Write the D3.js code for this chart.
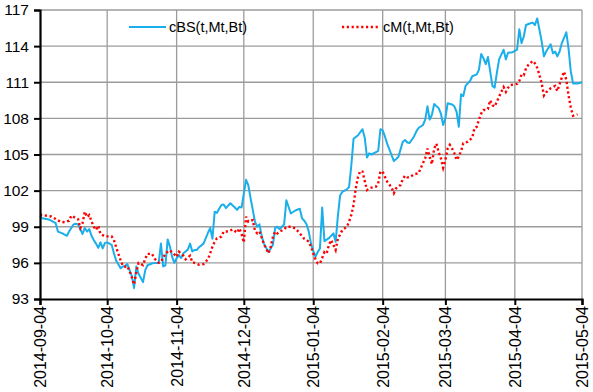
<!DOCTYPE html>
<html><head><meta charset="utf-8">
<script src="https://cdn.jsdelivr.net/npm/d3@7"></script>
<style>body{margin:0;background:#fff}svg{display:block;font-family:"Liberation Sans",Arial,sans-serif}</style>
</head><body><svg id="c" width="593" height="392"></svg>
<script>
const seriesNames = ["cBS(t,Mt,Bt)", "cM(t,Mt,Bt)"];
const yTicks = [93, 96, 99, 102, 105, 108, 111, 114, 117];
const xTickLabels = ["2014-09-04","2014-10-04","2014-11-04","2014-12-04","2015-01-04","2015-02-04","2015-03-04","2015-04-04","2015-05-04"];

const bsDates = ["2014-09-04","2014-09-05","2014-09-08","2014-09-09","2014-09-11","2014-09-12","2014-09-14","2014-09-16","2014-09-17","2014-09-19","2014-09-20","2014-09-21","2014-09-22","2014-09-23","2014-09-24","2014-09-25","2014-09-26","2014-09-27","2014-09-28","2014-09-29","2014-09-30","2014-10-01","2014-10-02","2014-10-03","2014-10-04","2014-10-05","2014-10-06","2014-10-07","2014-10-08","2014-10-10","2014-10-11","2014-10-12","2014-10-13","2014-10-14","2014-10-15","2014-10-16","2014-10-17","2014-10-18","2014-10-20","2014-10-21","2014-10-22","2014-10-24","2014-10-25","2014-10-27","2014-10-28","2014-10-29","2014-10-30","2014-10-31","2014-11-01","2014-11-02","2014-11-03","2014-11-04","2014-11-05","2014-11-06","2014-11-07","2014-11-08","2014-11-09","2014-11-10","2014-11-11","2014-11-12","2014-11-13","2014-11-14","2014-11-16","2014-11-18","2014-11-19","2014-11-20","2014-11-21","2014-11-22","2014-11-23","2014-11-24","2014-11-25","2014-11-26","2014-11-28","2014-11-30","2014-12-01","2014-12-02","2014-12-03","2014-12-05","2014-12-06","2014-12-07","2014-12-09","2014-12-10","2014-12-11","2014-12-12","2014-12-13","2014-12-15","2014-12-16","2014-12-17","2014-12-18","2014-12-19","2014-12-20","2014-12-21","2014-12-22","2014-12-23","2014-12-25","2014-12-27","2014-12-29","2014-12-30","2014-12-31","2015-01-01","2015-01-02","2015-01-03","2015-01-04","2015-01-05","2015-01-06","2015-01-07","2015-01-08","2015-01-09","2015-01-11","2015-01-13","2015-01-14","2015-01-15","2015-01-16","2015-01-17","2015-01-19","2015-01-20","2015-01-21","2015-01-22","2015-01-24","2015-01-26","2015-01-27","2015-01-28","2015-01-29","2015-01-30","2015-02-01","2015-02-02","2015-02-03","2015-02-04","2015-02-05","2015-02-06","2015-02-09","2015-02-11","2015-02-13","2015-02-14","2015-02-15","2015-02-16","2015-02-18","2015-02-19","2015-02-20","2015-02-22","2015-02-23","2015-02-24","2015-02-25","2015-02-26","2015-02-27","2015-03-01","2015-03-02","2015-03-03","2015-03-04","2015-03-05","2015-03-07","2015-03-08","2015-03-09","2015-03-10","2015-03-11","2015-03-12","2015-03-13","2015-03-15","2015-03-16","2015-03-18","2015-03-19","2015-03-20","2015-03-21","2015-03-22","2015-03-23","2015-03-25","2015-03-26","2015-03-27","2015-03-28","2015-03-30","2015-03-31","2015-04-01","2015-04-03","2015-04-04","2015-04-05","2015-04-06","2015-04-07","2015-04-08","2015-04-09","2015-04-11","2015-04-12","2015-04-13","2015-04-14","2015-04-16","2015-04-17","2015-04-18","2015-04-20","2015-04-21","2015-04-22","2015-04-23","2015-04-24","2015-04-25","2015-04-27","2015-04-28","2015-04-29","2015-04-30","2015-05-02","2015-05-04"];
const bsValues = [99.9,99.7,99.6,99.5,99.3,98.6,98.45,98.25,98.6,99.2,99.25,99.2,98.8,98.4,98.9,98.6,98.8,98.25,97.9,97.6,97.25,97.7,97.2,97.65,97.7,97.6,97.5,96.8,96.2,95.55,95.7,95.75,95.9,95.4,94.9,93.9,95.7,95.1,94.4,95.4,95.8,95.95,96.0,96.0,97.6,95.7,95.8,97.95,97.35,96.5,96.0,96.4,96.65,96.4,96.8,96.95,97.1,97.6,96.95,97.07,97.07,97.3,97.6,98.5,98.9,98.0,100.25,100.15,100.5,100.8,100.85,100.55,100.95,100.6,100.4,100.65,100.6,102.9,102.45,101.4,99.4,99.0,99.2,98.2,97.6,96.9,97.2,97.5,98.9,99.0,98.8,99.0,99.2,101.2,100.1,100.35,100.5,99.7,99.5,99.2,98.6,97.6,97.0,96.5,96.9,97.2,100.6,97.8,98.05,98.45,97.75,99.9,101.6,101.9,102.1,102.3,104.1,106.3,106.6,107.1,106.4,104.75,105.1,105.0,105.2,105.3,107.1,107.0,106.5,105.9,104.45,104.8,106.06,106.2,106.0,105.95,106.5,106.9,107.2,107.45,107.9,109.0,107.9,108.3,109.2,108.85,108.4,107.45,108.0,109.25,109.15,109.0,108.55,107.3,110.0,109.85,110.7,111.1,111.5,111.65,112.05,113.35,113.0,112.5,113.1,110.7,110.55,111.8,112.9,113.7,112.9,113.45,113.5,113.6,113.7,115.4,114.25,114.8,115.75,115.9,115.95,115.75,116.3,114.4,113.15,113.55,114.15,113.4,113.55,113.15,113.55,114.25,115.15,113.8,111.9,110.9,110.9,111.0];

const mDates = ["2014-09-04","2014-09-06","2014-09-09","2014-09-11","2014-09-13","2014-09-15","2014-09-17","2014-09-18","2014-09-21","2014-09-22","2014-09-23","2014-09-24","2014-09-25","2014-09-26","2014-09-27","2014-09-28","2014-09-29","2014-09-30","2014-10-01","2014-10-03","2014-10-06","2014-10-07","2014-10-08","2014-10-09","2014-10-10","2014-10-11","2014-10-12","2014-10-13","2014-10-14","2014-10-15","2014-10-16","2014-10-17","2014-10-18","2014-10-20","2014-10-21","2014-10-22","2014-10-24","2014-10-25","2014-10-27","2014-10-28","2014-10-29","2014-10-30","2014-11-01","2014-11-03","2014-11-04","2014-11-05","2014-11-07","2014-11-08","2014-11-10","2014-11-11","2014-11-12","2014-11-14","2014-11-16","2014-11-18","2014-11-19","2014-11-20","2014-11-21","2014-11-22","2014-11-24","2014-11-25","2014-11-27","2014-11-29","2014-12-01","2014-12-02","2014-12-03","2014-12-04","2014-12-05","2014-12-06","2014-12-08","2014-12-09","2014-12-10","2014-12-11","2014-12-12","2014-12-13","2014-12-15","2014-12-16","2014-12-17","2014-12-18","2014-12-19","2014-12-20","2014-12-22","2014-12-23","2014-12-25","2014-12-27","2014-12-29","2014-12-31","2015-01-01","2015-01-02","2015-01-03","2015-01-04","2015-01-05","2015-01-06","2015-01-07","2015-01-08","2015-01-09","2015-01-10","2015-01-11","2015-01-12","2015-01-13","2015-01-14","2015-01-15","2015-01-17","2015-01-19","2015-01-20","2015-01-21","2015-01-22","2015-01-23","2015-01-24","2015-01-25","2015-01-26","2015-01-27","2015-01-28","2015-01-29","2015-01-30","2015-02-01","2015-02-02","2015-02-03","2015-02-04","2015-02-05","2015-02-06","2015-02-08","2015-02-09","2015-02-10","2015-02-12","2015-02-13","2015-02-14","2015-02-15","2015-02-16","2015-02-18","2015-02-20","2015-02-21","2015-02-23","2015-02-24","2015-02-25","2015-02-26","2015-02-27","2015-02-28","2015-03-01","2015-03-02","2015-03-03","2015-03-04","2015-03-05","2015-03-06","2015-03-07","2015-03-08","2015-03-09","2015-03-10","2015-03-11","2015-03-12","2015-03-14","2015-03-16","2015-03-17","2015-03-18","2015-03-19","2015-03-20","2015-03-21","2015-03-22","2015-03-23","2015-03-24","2015-03-25","2015-03-26","2015-03-27","2015-03-28","2015-03-29","2015-03-30","2015-03-31","2015-04-01","2015-04-02","2015-04-05","2015-04-06","2015-04-07","2015-04-08","2015-04-09","2015-04-10","2015-04-12","2015-04-13","2015-04-14","2015-04-15","2015-04-16","2015-04-17","2015-04-18","2015-04-20","2015-04-22","2015-04-23","2015-04-24","2015-04-25","2015-04-26","2015-04-27","2015-04-28","2015-04-29","2015-04-30","2015-05-02"];
const mValues = [100.0,99.95,99.85,99.65,99.42,99.37,99.5,99.92,99.62,98.9,99.3,100.25,99.8,99.97,99.45,99.0,98.73,99.08,98.4,98.2,98.2,97.9,97.3,96.75,96.2,95.75,95.68,95.74,95.3,94.8,94.2,95.2,96.0,95.82,96.35,96.75,96.75,96.38,96.0,96.1,96.4,96.8,97.05,96.7,96.5,96.93,96.6,96.3,96.6,96.05,96.0,95.85,95.9,96.3,96.8,97.35,97.76,98.04,98.18,98.6,98.6,98.78,98.5,98.87,98.4,97.7,99.84,99.42,99.56,98.65,98.45,98.6,98.1,97.55,96.8,97.3,98.17,98.6,98.45,98.6,98.78,99.0,99.0,98.87,98.45,98.0,97.9,97.76,97.35,96.8,96.3,95.96,95.96,96.4,96.9,96.8,97.49,97.9,97.49,97.07,98.0,98.73,99.0,99.42,99.98,100.8,102.2,103.16,103.63,103.58,102.8,102.05,102.19,102.25,102.33,102.6,103.58,103.58,103.16,102.75,102.25,101.78,102.19,102.47,102.97,103.24,103.1,103.1,103.36,103.44,103.86,104.7,105.5,104.8,104.2,105.5,105.9,105.2,104.68,103.9,104.55,105.5,105.8,105.5,105.1,104.55,104.82,105.29,105.93,106.06,106.4,107.2,107.3,107.9,108.4,108.7,108.7,108.78,109.5,109.1,108.97,109.39,109.8,110.22,110.6,110.2,110.55,110.77,110.86,111.1,111.65,111.6,112.16,112.43,112.77,112.57,112.2,111.6,110.9,109.9,110.17,110.5,110.69,110.27,110.85,111.4,111.88,111.2,109.9,108.9,108.22,108.34];

const parse = d3.timeParse("%Y-%m-%d");
const svg = d3.select("#c");
const L = 40, R = 582, T = 10, B = 299;
const x = d3.scaleTime().domain([parse(xTickLabels[0]), parse(xTickLabels[xTickLabels.length-1])]).range([L, R]);
const y = d3.scaleLinear().domain([93, 117]).range([B, T]);
const tickDates = xTickLabels.map(parse);

// grid
const g = svg.append("g");
g.selectAll("line.h").data(yTicks.slice(1)).enter().append("line")
  .attr("x1", L).attr("x2", R).attr("y1", d => y(d)).attr("y2", d => y(d))
  .attr("stroke", "#9c9c9c").attr("stroke-width", 1.3);
g.selectAll("line.v").data(tickDates.slice(1)).enter().append("line")
  .attr("x1", d => x(d)).attr("x2", d => x(d)).attr("y1", T).attr("y2", B)
  .attr("stroke", "#9c9c9c").attr("stroke-width", 1.3);

// legend
const lg = svg.append("g");
lg.append("line").attr("x1", 129).attr("x2", 166).attr("y1", 27).attr("y2", 27)
  .attr("stroke", "#1aaeea").attr("stroke-width", 2);
lg.append("text").attr("x", 169).attr("y", 32).attr("font-size", 14.5).attr("fill", "#000").text(seriesNames[0]);
lg.append("line").attr("x1", 342).attr("x2", 380).attr("y1", 27).attr("y2", 27)
  .attr("stroke", "#ff0000").attr("stroke-width", 2.4).attr("stroke-dasharray", "2.2,2.6");
lg.append("text").attr("x", 383).attr("y", 32).attr("font-size", 14.5).attr("fill", "#000").text(seriesNames[1]);

// lines
const line = d3.line().x(d => x(d[0])).y(d => y(d[1]));
const bsData = bsDates.map((d, i) => [parse(d), bsValues[i]]);
const mData = mDates.map((d, i) => [parse(d), mValues[i]]);
svg.append("path").datum(bsData).attr("d", line).attr("fill", "none")
  .attr("stroke", "#1aaeea").attr("stroke-width", 2).attr("stroke-linejoin", "round");
svg.append("path").datum(mData).attr("d", line).attr("fill", "none")
  .attr("stroke", "#ff0000").attr("stroke-width", 2.4).attr("stroke-dasharray", "2.2,2.6");

// axes
const yAxis = d3.axisLeft(y).tickValues(yTicks).tickSize(6).tickFormat(d3.format("d"));
const ya = svg.append("g").attr("transform", `translate(${L},0)`).call(yAxis);
ya.select(".domain").attr("stroke", "#000").attr("stroke-width", 2.2);
ya.selectAll(".tick line").attr("stroke", "#000").attr("stroke-width", 2);
ya.selectAll(".tick text").attr("font-size", 15.5).attr("fill", "#000").attr("x", -11)
  .attr("font-family", "'Liberation Sans', Arial, sans-serif");

const xAxis = d3.axisBottom(x).tickValues(tickDates).tickSize(6).tickFormat(d3.timeFormat("%Y-%m-%d"));
const xa = svg.append("g").attr("transform", `translate(0,${B})`).call(xAxis);
xa.select(".domain").attr("stroke", "#000").attr("stroke-width", 2.2);
xa.selectAll(".tick line").attr("stroke", "#000").attr("stroke-width", 2);
xa.selectAll(".tick text").attr("font-size", 16).attr("fill", "#000")
  .attr("font-family", "'Liberation Sans', Arial, sans-serif")
  .attr("transform", "rotate(-90)").attr("text-anchor", "end")
  .attr("x", -7).attr("y", 0).attr("dy", "0.35em");
</script></body></html>
